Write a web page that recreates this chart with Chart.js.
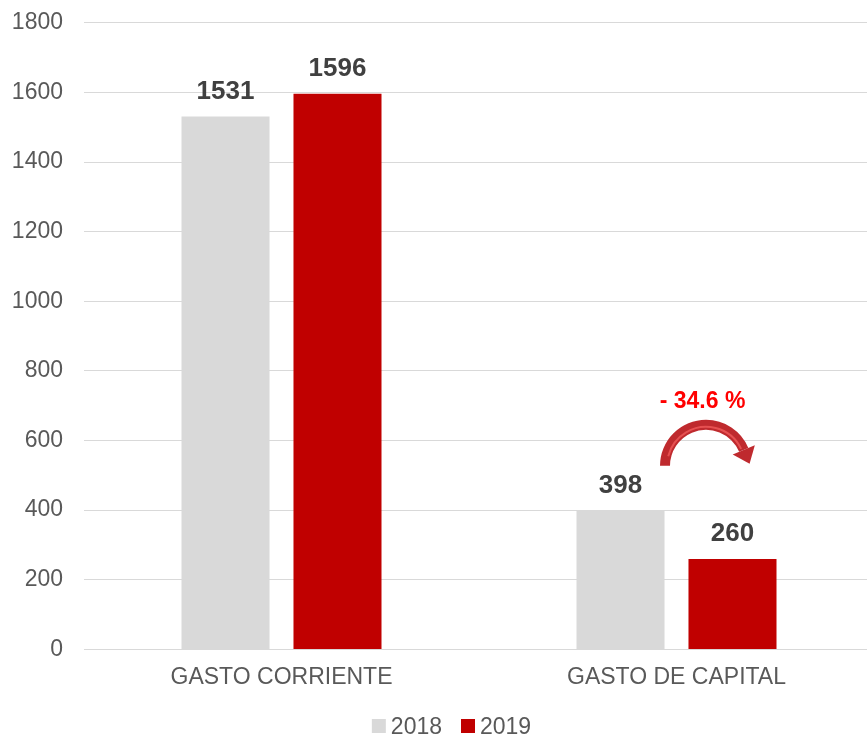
<!DOCTYPE html>
<html><head><meta charset="utf-8">
<script src="https://cdn.jsdelivr.net/npm/chart.js@4"></script>
<style>html,body{margin:0;padding:0;background:#fff;overflow:hidden;width:867px;height:737px}#w{width:874px;height:749px;margin-top:-12px}</style>
</head><body><div id="w"><canvas id="c"></canvas></div>
<script>
const categories = ["GASTO CORRIENTE", "GASTO DE CAPITAL"];
const series2018 = [1531, 398];
const series2019 = [1596, 260];
const seriesNames = ["2018", "2019"];
const seriesColors = ["#d9d9d9", "#c00000"];
const changeLabel = "- 34.6 %";

const F = "'Liberation Sans', Arial, sans-serif";

const labelPlugin = {
  id: 'labels',
  afterDatasetsDraw(chart) {
    const ctx = chart.ctx;
    ctx.save();
    // value labels
    ctx.font = "bold 26px " + F;
    ctx.fillStyle = "#404040";
    ctx.textAlign = "center";
    ctx.textBaseline = "alphabetic";
    chart.data.datasets.forEach((ds, i) => {
      chart.getDatasetMeta(i).data.forEach((bar, j) => {
        ctx.fillText(String(ds.data[j]), bar.x, bar.y - 17.5);
      });
    });
    // change annotation
    const b1 = chart.getDatasetMeta(0).data[1];
    const b2 = chart.getDatasetMeta(1).data[1];
    const mid = (b1.x + b2.x) / 2;
    const b1top = b1.y;
    ctx.font = "bold 23px " + F;
    ctx.fillStyle = "#ff0000";
    ctx.fillText(changeLabel, mid + 26, b1top - 103);
    // curved arrow
    const cx = mid + 29.5, cy = b1top - 45, r = 40;
    const th = -0.4;
    ctx.fillStyle = "#bf2a2e";
    ctx.beginPath();
    ctx.arc(cx, cy, r + 6, Math.PI, 2 * Math.PI + th, false);
    ctx.arc(cx, cy, r - 4, 2 * Math.PI + th, Math.PI, true);
    ctx.closePath();
    ctx.fill();
    // highlight
    ctx.strokeStyle = "rgba(240,90,90,0.8)";
    ctx.lineWidth = 2;
    ctx.beginPath();
    ctx.arc(cx, cy, r - 1, Math.PI * 1.08, 2 * Math.PI + th - 0.05, false);
    ctx.stroke();
    // head
    const ex = cx + (r + 1) * Math.cos(th), ey = cy + (r + 1) * Math.sin(th);
    const tx = -Math.sin(th), ty = Math.cos(th);
    const nx = Math.cos(th), ny = Math.sin(th);
    ctx.fillStyle = "#bf2a2e";
    ctx.beginPath();
    ctx.moveTo(ex + 12 * nx, ey + 12 * ny);
    ctx.lineTo(ex - 12 * nx, ey - 12 * ny);
    ctx.lineTo(ex + 15 * tx, ey + 15 * ty);
    ctx.closePath();
    ctx.fill();
    ctx.restore();
  },
  afterDraw(chart) {
    // legend
    const ctx = chart.ctx;
    ctx.save();
    ctx.font = "23px " + F;
    ctx.textBaseline = "alphabetic";
    ctx.textAlign = "left";
    const box = 14, gap = 5, spacing = 19;
    const widths = seriesNames.map(n => ctx.measureText(n).width);
    let total = 0;
    widths.forEach((w, i) => { total += box + gap + w + (i ? spacing : 0); });
    let x = 433.5 + 18 - total / 2;
    const base = chart.height - 3;
    seriesNames.forEach((n, i) => {
      ctx.fillStyle = seriesColors[i];
      ctx.fillRect(x, base - 15, box, box);
      ctx.fillStyle = "#595959";
      ctx.fillText(n, x + box + gap, base);
      x += box + gap + widths[i] + spacing;
    });
    ctx.restore();
  }
};

new Chart(document.getElementById('c'), {
  type: 'bar',
  data: {
    labels: categories,
    datasets: [
      { label: seriesNames[0], data: series2018, backgroundColor: seriesColors[0] },
      { label: seriesNames[1], data: series2019, backgroundColor: seriesColors[1] }
    ]
  },
  options: {
    responsive: true,
    maintainAspectRatio: false,
    animation: false,
    categoryPercentage: 0.567,
    barPercentage: 0.786,
    layout: { padding: { top: -2, right: 0, bottom: 32, left: 0 } },
    plugins: {
      legend: { display: false },
      tooltip: { enabled: false }
    },
    scales: {
      x: {
        grid: { display: false, drawTicks: false },
        border: { color: '#d9d9d9', width: 1 },
        ticks: { font: { family: F, size: 23 }, color: '#595959', padding: 14 }
      },
      y: {
        min: 0, max: 1800,
        ticks: { stepSize: 200, font: { family: F, size: 23 }, color: '#595959', padding: 21,
                 callback: v => String(v) },
        grid: { color: '#d9d9d9', drawTicks: false },
        border: { display: false },
        afterFit(s) { s.width = 84; }
      }
    }
  },
  plugins: [labelPlugin]
});
</script>
</body></html>
